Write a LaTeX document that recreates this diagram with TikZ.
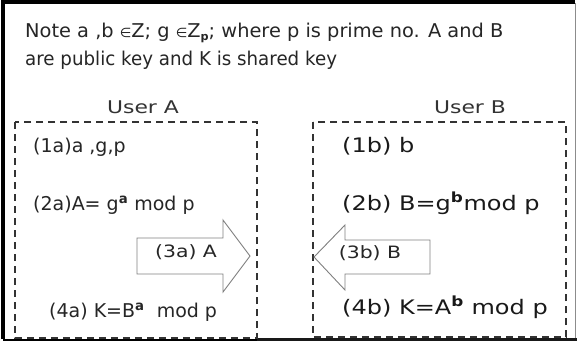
\documentclass[tikz,border=0pt]{standalone}
\usepackage{fontspec}
\setmainfont{DejaVu Sans}
\newcommand{\hstretch}[2]{\scalebox{#1}[1]{#2}}
\begin{document}
\begin{tikzpicture}[x=1pt,y=-1pt,
  txt/.style={anchor=base west,inner sep=0pt,text=black!85,font=\fontsize{19}{22}\selectfont},
  txtb/.style={anchor=base west,inner sep=0pt,text=black!90,font=\fontsize{20}{23}\selectfont},
  small/.style={anchor=base,inner sep=0pt,text=black!80,font=\fontsize{17.5}{20}\selectfont},
  lbl/.style={anchor=base,inner sep=0pt,text=black!85,font=\fontsize{17}{20}\selectfont},
  userbox/.style={draw=black!80,line width=1.4pt,dash pattern=on 7pt off 5pt},
  block/.style={draw=black!50,line width=0.9pt,fill=white,line join=miter}]
\useasboundingbox (0,0) rectangle (577,341);
\fill[white] (0,0) rectangle (577,341);
% outer frame: heavy left/top/bottom, light right
\draw[black!45,line width=1pt] (575,3) -- (575,339);
\draw[black,line width=4pt] (3,339) -- (3,2) -- (575,2);
\draw[black!90,line width=3.5pt] (257,339.5) -- (577,339.5);
\draw[black,line width=2pt] (3,339.5) -- (257,339.5);
% note
\node[txt] (n1) at (25,37) {\hstretch{1.02}{Note a ,b {\fontsize{13}{14}\selectfont∈}Z; g {\fontsize{13}{14}\selectfont∈}Z\raisebox{-0.3ex}{\fontsize{11}{12}\selectfont\bfseries p};\ where p is prime no. A and B}};
\node[txt] (n2) at (25,65) {\hstretch{0.96}{are public key and K is shared key}};
% users
\node[small] (ua) at (143,113) {\hstretch{1.25}{User A}};
\node[small] (ub) at (470,113) {\hstretch{1.25}{User B}};
\draw[userbox] (15,122) rectangle (257,338);
\draw[userbox] (313,122) rectangle (566,337);
% user A steps
\node[txt] (a1) at (33,152) {(1a)a ,g,p};
\node[txt] (a2) at (33,210) {(2a)A= g\textsuperscript{\bfseries a} mod p};
\node[txt] (a4) at (49,317) {(4a) K=B\textsuperscript{\bfseries a}\ \ mod p};
% user B steps
\node[txtb] (b1) at (342,152) {\hstretch{1.2}{(1b) b}};
\node[txtb] (b2) at (342,210) {\hstretch{1.2}{(2b) B=g\textsuperscript{\bfseries b}mod p}};
\node[txtb] (b4) at (342,314) {\hstretch{1.2}{(4b) K=A\textsuperscript{\bfseries b} mod p}};
% transfer arrows
\draw[block] (137,238) -- (223,238) -- (223,220) -- (250,256) -- (223,292) -- (223,274) -- (137,274) -- cycle;
\node[lbl] (t3a) at (186,257) {\hstretch{1.2}{(3a) A}};
\draw[block] (430,240) -- (345,240) -- (345,225) -- (314,257) -- (345,290) -- (345,274) -- (430,274) -- cycle;
\node[lbl] (t3b) at (370,258) {\hstretch{1.2}{(3b) B}};
\end{tikzpicture}
\end{document}
